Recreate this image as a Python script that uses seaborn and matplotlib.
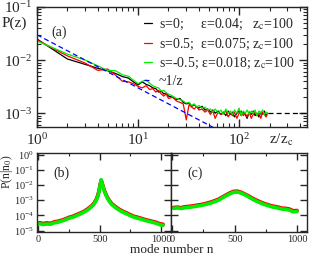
import numpy as np
import pandas as pd
import seaborn as sns
import matplotlib
matplotlib.use('Agg')
import matplotlib.pyplot as plt
from matplotlib.ticker import LogLocator, NullFormatter, FixedLocator

# ---- panel (a): P(z) vs z/z_c, values in units of 1e-3 ----
z = [1, 2, 3, 4, 5, 6, 7, 8, 9, 10, 11, 12, 13, 14, 15, 16, 17, 18, 19, 20,
     22, 24, 26, 28, 30, 32, 34, 36, 38, 40, 43, 46, 49, 52, 55, 58, 62, 66,
     70, 74, 78, 82, 86, 90, 95, 100, 105, 110, 115, 120, 126, 132, 138, 144,
     150, 157, 164, 171, 178, 185, 192]
p_s0 = [25, 10.5, 8.3, 7.0, 6.3, 5.6, 4.9, 4.6, 3.9, 3.4, 3.9, 3.5, 3.3, 3.0,
        2.9, 2.5, 2.6, 2.3, 2.4, 2.1, 2.0, 1.8, 1.9, 1.6, 1.5, 1.55, 1.35, 1.45,
        1.3, 1.25, 1.35, 1.15, 1.2, 1.05, 1.15, 1.0, 1.1, 0.95, 1.05, 0.9, 1.1,
        0.95, 1.05, 0.85, 1.0, 1.1, 0.9, 1.05, 0.95, 0.8, 1.05, 0.95, 1.1, 0.9,
        1.0, 0.85, 1.05, 0.95, 1.1, 0.9, 1.0]
p_s05 = [24, 12, 8.8, 6.4, 6.8, 5.2, 4.0, 3.9, 3.6, 3.2, 3.0, 3.3, 2.8, 2.9,
         2.5, 2.7, 2.3, 2.1, 2.3, 1.9, 2.0, 1.7, 1.6, 1.5, 0.75, 1.45, 1.3, 1.2,
         1.35, 1.15, 1.2, 1.05, 1.15, 0.95, 1.1, 0.8, 1.05, 0.95, 1.0, 1.1, 0.85,
         1.0, 0.9, 1.05, 0.8, 1.0, 1.1, 0.9, 1.0, 0.85, 1.05, 0.8, 0.95, 1.05,
         0.9, 1.0, 0.8, 1.05, 0.95, 0.85, 1.0]
p_sm05 = [23, 13, 10, 7.8, 6.4, 6.3, 5.3, 5.0, 4.2, 3.6, 4.0, 4.2, 3.7, 3.3,
          3.1, 3.0, 2.6, 2.7, 2.4, 2.3, 2.1, 1.9, 1.8, 1.7, 1.55, 1.6, 1.4, 1.5,
          1.3, 1.4, 1.25, 1.3, 1.15, 1.2, 1.05, 1.2, 1.0, 1.15, 0.95, 1.2, 1.0,
          1.1, 0.95, 1.15, 1.0, 1.25, 0.9, 1.1, 1.0, 1.15, 0.95, 1.1, 1.0, 1.15,
          0.9, 1.1, 1.0, 1.15, 0.95, 1.05, 0.95]
guide_z = [1, 100]
guide_p = [0.03, 0.0003]
tail_z = [192, 470]
tail_p = [0.001, 0.001]

# ---- panel (b): sharp peak at n0 ~ 512 ----
nb = [10, 40, 70, 100, 130, 160, 190, 220, 250, 280, 310, 340, 370, 400, 430,
      450, 470, 485, 495, 505, 512, 520, 530, 545, 560, 580, 600, 630, 660, 690,
      720, 750, 780, 810, 840, 870, 900, 930, 960, 990, 1015]
pb_green = [2.8e-5, 2.5e-5, 2.7e-5, 2.6e-5, 3.2e-5, 3.5e-5, 4.2e-5, 5.0e-5,
            6.5e-5, 7.5e-5, 9.5e-5, 1.2e-4, 1.6e-4, 2.2e-4, 3.5e-4, 5.0e-4,
            9.0e-4, 1.8e-3, 4.0e-3, 1.1e-2, 2.2e-2, 1.3e-2, 6.0e-3, 2.8e-3,
            1.5e-3, 8.0e-4, 5.0e-4, 3.2e-4, 2.2e-4, 1.6e-4, 1.25e-4, 9.5e-5,
            7.5e-5, 6.5e-5, 5.5e-5, 4.6e-5, 4.0e-5, 3.5e-5, 3.0e-5, 2.4e-5, 2.2e-5]
pb_red = [3.3e-5, 2.9e-5, 3.2e-5, 3.0e-5, 3.7e-5, 4.1e-5, 4.8e-5, 5.8e-5,
          7.4e-5, 8.7e-5, 1.1e-4, 1.4e-4, 1.8e-4, 2.6e-4, 4.0e-4, 5.8e-4,
          1.05e-3, 2.1e-3, 4.5e-3, 1.2e-2, 2.0e-2, 1.4e-2, 6.8e-3, 3.2e-3,
          1.7e-3, 9.2e-4, 5.8e-4, 3.7e-4, 2.5e-4, 1.85e-4, 1.45e-4, 1.1e-4,
          8.6e-5, 7.5e-5, 6.3e-5, 5.3e-5, 4.6e-5, 4.0e-5, 3.5e-5, 2.8e-5, 2.6e-5]
pb_black = [3.0e-5, 2.7e-5, 2.9e-5, 2.8e-5, 3.4e-5, 3.8e-5, 4.5e-5, 5.4e-5,
            6.9e-5, 8.1e-5, 1.0e-4, 1.3e-4, 1.7e-4, 2.4e-4, 3.7e-4, 5.4e-4,
            9.7e-4, 1.9e-3, 4.2e-3, 1.15e-2, 2.1e-2, 1.35e-2, 6.4e-3, 3.0e-3,
            1.6e-3, 8.6e-4, 5.4e-4, 3.4e-4, 2.35e-4, 1.7e-4, 1.35e-4, 1.02e-4,
            8.0e-5, 7.0e-5, 5.9e-5, 4.9e-5, 4.3e-5, 3.7e-5, 3.2e-5, 2.6e-5, 2.4e-5]

# ---- panel (c): broad peak ----
nc = [10, 40, 70, 100, 130, 160, 190, 220, 250, 280, 310, 340, 370, 400, 430,
      460, 490, 520, 550, 580, 610, 640, 670, 700, 730, 760, 790, 820, 850, 880,
      910, 940, 970, 1000]
pc_green = [2.9e-4, 3.1e-4, 2.8e-4, 3.2e-4, 3.4e-4, 3.6e-4, 4.0e-4, 4.3e-4,
            4.8e-4, 5.6e-4, 6.5e-4, 8.0e-4, 1.0e-3, 1.4e-3, 1.9e-3, 2.6e-3,
            3.3e-3, 3.5e-3, 3.0e-3, 2.3e-3, 1.7e-3, 1.2e-3, 9.0e-4, 7.0e-4,
            5.5e-4, 4.6e-4, 3.8e-4, 3.4e-4, 3.0e-4, 2.6e-4, 2.5e-4, 2.2e-4,
            1.7e-4, 1.8e-4]
pc_red = [3.3e-4, 3.5e-4, 3.2e-4, 3.7e-4, 3.9e-4, 4.2e-4, 4.6e-4, 5.0e-4,
          5.6e-4, 6.5e-4, 7.6e-4, 9.3e-4, 1.15e-3, 1.6e-3, 2.2e-3, 3.0e-3,
          3.8e-3, 4.0e-3, 3.4e-3, 2.6e-3, 1.95e-3, 1.4e-3, 1.05e-3, 8.1e-4,
          6.4e-4, 5.3e-4, 4.4e-4, 3.9e-4, 3.5e-4, 3.0e-4, 2.9e-4, 2.6e-4,
          2.0e-4, 2.1e-4]
pc_black = [3.1e-4, 3.3e-4, 3.0e-4, 3.4e-4, 3.6e-4, 3.9e-4, 4.3e-4, 4.6e-4,
            5.2e-4, 6.0e-4, 7.0e-4, 8.6e-4, 1.07e-3, 1.5e-3, 2.05e-3, 2.8e-3,
            3.5e-3, 3.7e-3, 3.2e-3, 2.45e-3, 1.8e-3, 1.3e-3, 9.7e-4, 7.5e-4,
            5.9e-4, 4.9e-4, 4.1e-4, 3.6e-4, 3.2e-4, 2.8e-4, 2.7e-4, 2.4e-4,
            1.85e-4, 1.95e-4]

labels = ['s=0;     \u03b5=0.04;   z$_\\mathrm{c}$=100',
          's=0.5;  \u03b5=0.075; z$_\\mathrm{c}$=100',
          's=-0.5; \u03b5=0.018; z$_\\mathrm{c}$=100',
          '~1/z']

sns.set_style('ticks')
plt.rcParams['font.family'] = ['Liberation Serif', 'DejaVu Serif']
plt.rcParams['mathtext.fontset'] = 'stix'
plt.rcParams['axes.linewidth'] = 1.0

fig = plt.figure(figsize=(3.32, 2.57), dpi=100)
ax_a = fig.add_axes([0.1114, 0.5058, 0.8133, 0.4669])
ax_b = fig.add_axes([0.1114, 0.0973, 0.4036, 0.3074])
ax_c = fig.add_axes([0.5151, 0.0973, 0.4096, 0.3074])

# panel (a)
df_a = pd.DataFrame({'z': z * 3,
                     'P': np.array(p_s0 + p_s05 + p_sm05) * 1e-3,
                     'series': [labels[0]] * len(z) + [labels[1]] * len(z) + [labels[2]] * len(z)})
sns.lineplot(data=df_a, x='z', y='P', hue='series', palette=['black', 'red', '#00ee00'],
             hue_order=labels[:3], estimator=None, sort=False, linewidth=0.9, ax=ax_a)
sns.lineplot(x=guide_z, y=guide_p, color='blue', linestyle=(0, (4, 2.5)), linewidth=0.9,
             label=labels[3], ax=ax_a)
sns.lineplot(x=tail_z, y=tail_p, color='black', linestyle=(0, (4, 2.5)), linewidth=0.9,
             legend=False, ax=ax_a)
ax_a.set_xscale('log')
ax_a.set_yscale('log')
ax_a.set_xlim(1, 470)
ax_a.set_ylim(5.5e-4, 0.1)
ax_a.set_xlabel('')
ax_a.set_ylabel('')
ax_a.xaxis.set_minor_locator(LogLocator(subs=range(2, 10)))
ax_a.yaxis.set_minor_locator(LogLocator(subs=range(2, 10)))
ax_a.xaxis.set_minor_formatter(NullFormatter())
ax_a.yaxis.set_minor_formatter(NullFormatter())
ax_a.tick_params(which='both', direction='in', top=True, right=True, labelsize=11)
ax_a.tick_params(which='major', length=6, width=1)
ax_a.tick_params(which='minor', length=3, width=0.8)
ax_a.legend(loc='upper left', bbox_to_anchor=(0.395, 0.915), frameon=False, fontsize=10,
            handlelength=0.6, handletextpad=0.5, labelspacing=0.3, borderaxespad=0,
            borderpad=0)
ax_a.text(0.055, 0.76, '(a)', transform=ax_a.transAxes, fontsize=10)

# panels (b) and (c)
for ax, n, g, r, k, tag in [(ax_b, nb, pb_green, pb_red, pb_black, '(b)'),
                            (ax_c, nc, pc_green, pc_red, pc_black, '(c)')]:
    sns.lineplot(x=n, y=k, color='black', linewidth=2.2, estimator=None, sort=False, ax=ax)
    sns.lineplot(x=n, y=r, color='red', linewidth=2.6, estimator=None, sort=False, ax=ax)
    sns.lineplot(x=n, y=g, color='#00ee00', linewidth=2.6, estimator=None, sort=False, ax=ax)
    ax.set_yscale('log')
    ax.set_ylim(8e-6, 1.3)
    ax.set_xlim(-10, 1080)
    ax.set_yticks([1e-5, 1e-4, 1e-3, 1e-2, 1e-1, 1])
    ax.yaxis.set_minor_locator(LogLocator(subs=range(2, 10)))
    ax.yaxis.set_minor_formatter(NullFormatter())
    ax.set_xticks([0, 500, 1000])
    ax.xaxis.set_minor_locator(FixedLocator([250, 750]))
    ax.tick_params(which='both', direction='in', top=True, right=True, labelsize=7.5, pad=2)
    ax.tick_params(which='major', length=5, width=1)
    ax.tick_params(which='minor', length=2.5, width=0.8)
    ax.set_xlabel('')
    ax.set_ylabel('')
    ax.text(0.12, 0.7, tag, transform=ax.transAxes, fontsize=10)
ax_c.tick_params(labelleft=False)

fig.text(0.006, 0.91, 'P(z)', fontsize=11, va='center')
fig.text(0.81, 0.44, 'z/z$_\\mathrm{c}$', fontsize=11)
fig.text(0.022, 0.33, 'P(n|n$_0$)', fontsize=8.5, rotation=90, ha='center', va='center')
fig.text(0.518, 0.026, 'mode number n', fontsize=9.5, ha='center', va='center')

fig.savefig('out.png', dpi=100)
